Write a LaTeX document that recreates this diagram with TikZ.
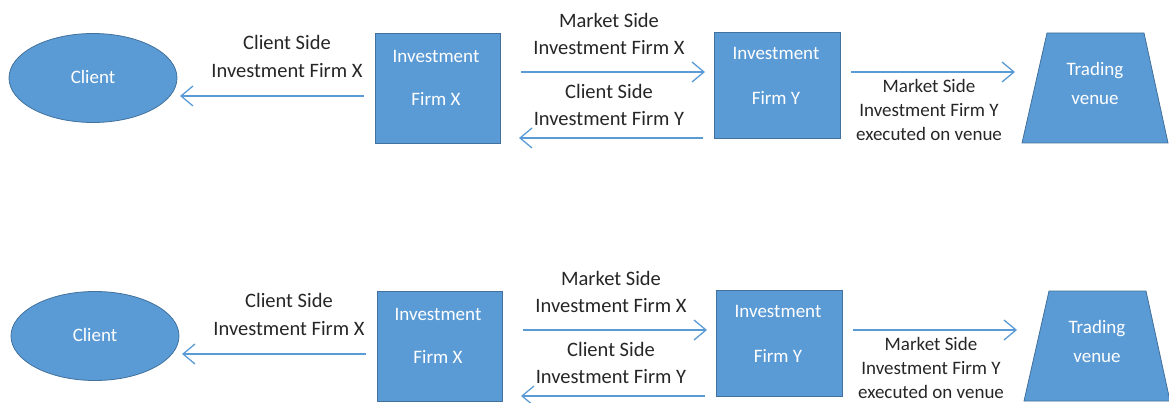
\documentclass[tikz,border=0pt]{standalone}
\usepackage{fontspec}
\setmainfont{Carlito}
\usetikzlibrary{arrows.meta,shapes.geometric}
\definecolor{boxblue}{HTML}{5B9BD5}
\definecolor{boxedge}{HTML}{41719C}
\definecolor{txt}{HTML}{262626}
\tikzset{
  shapefill/.style={fill=boxblue,draw=boxedge,line width=0.8pt},
  firmbox/.style={shapefill,rectangle,inner sep=0pt},
  intext/.style={text=white,font=\fontsize{19}{22}\selectfont,inner sep=0pt},
  lab/.style={text=txt,font=\fontsize{20.5}{24}\selectfont,inner sep=0pt},
  labs/.style={text=txt,font=\fontsize{19}{22}\selectfont,inner sep=0pt},
  arr/.style={draw=boxblue,line width=1.3pt,-{Straight Barb[length=12pt,width=20pt,line width=1.3pt]}},
}
\begin{document}
\begin{tikzpicture}[x=1pt,y=-1pt]
\useasboundingbox (0,0) rectangle (1169,403);
\foreach \r/\dx/\dy in {a/0/0,b/2/258}{
\begin{scope}[shift={(\dx,\dy)}]
  % client
  \node[shapefill,ellipse,minimum width=168pt,minimum height=89pt,inner sep=0pt] (cl\r) at (93,78) {};
  \node[intext] (clt\r) at (93,77) {Client};
  % firm X
  \node[firmbox,minimum width=125pt,minimum height=110pt] (fx\r) at (437.5,88) {};
  \node[intext] (fxt1\r) at (436,56) {Investment};
  \node[intext] (fxt2\r) at (436,99) {Firm X};
  % firm Y
  \node[firmbox,minimum width=126pt,minimum height=106pt] (fy\r) at (777,85) {};
  \node[intext] (fyt1\r) at (776,53) {Investment};
  \node[intext] (fyt2\r) at (776,98) {Firm Y};
  % trading venue
  \coordinate (tv1\r) at (1047,33);
  \coordinate (tv2\r) at (1144,33);
  \coordinate (tv3\r) at (1168,143);
  \coordinate (tv4\r) at (1022,143);
  \draw[shapefill] (tv1\r) -- (tv2\r) -- (tv3\r) -- (tv4\r) -- cycle;
  \node[intext] (tvt1\r) at (1095,71) {Trading};
  \node[intext] (tvt2\r) at (1095,100) {venue};
  % arrows
  \coordinate (c1s\r) at (364,96);  \coordinate (c1e\r) at (180,96);
  \coordinate (m1s\r) at (521,72);  \coordinate (m1e\r) at (705,72);
  \coordinate (c2s\r) at (703,138); \coordinate (c2e\r) at (519,138);
  \coordinate (m2s\r) at (851,72);  \coordinate (m2e\r) at (1015,72);
  \draw[arr] (c1s\r) -- (c1e\r);
  \draw[arr] (m1s\r) -- (m1e\r);
  \draw[arr] (c2s\r) -- (c2e\r);
  \draw[arr] (m2s\r) -- (m2e\r);
  % labels
  \node[lab] (l1\r) at (287,42) {Client Side};
  \node[lab] (l2\r) at (287,71) {Investment Firm X};
  \node[lab] (l3\r) at (609,20) {Market Side};
  \node[lab] (l4\r) at (609,48) {Investment Firm X};
  \node[lab] (l5\r) at (609,91) {Client Side};
  \node[lab] (l6\r) at (609,119) {Investment Firm Y};
  \node[labs] (l7\r) at (929,86) {Market Side};
  \node[labs] (l8\r) at (929,110) {Investment Firm Y};
  \node[labs] (l9\r) at (929,134) {executed on venue};
\end{scope}}
\end{tikzpicture}
\end{document}
